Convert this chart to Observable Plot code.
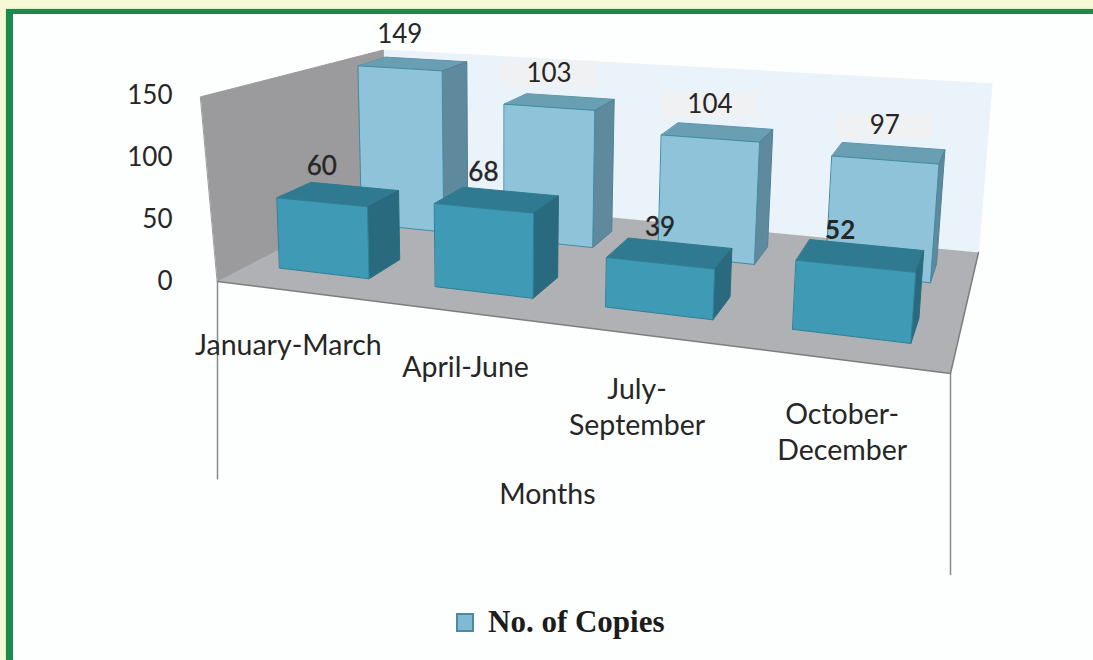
<!DOCTYPE html>
<html>
<head>
<meta charset="utf-8">
<script src="https://cdn.jsdelivr.net/npm/d3@7"></script>
<script src="https://cdn.jsdelivr.net/npm/@observablehq/plot@0.6"></script>
<style>
html,body{margin:0;padding:0;background:#fff;}
#page{position:relative;width:1093px;height:660px;overflow:hidden;background:#f7f8d6;}
#inner{position:absolute;left:6px;top:9px;right:0;bottom:0;background:#1c8a4c;box-shadow:0 0 2px #9fe6a8;}
#white{position:absolute;left:13px;top:14px;right:0;bottom:0;background:#fdfefe;}
#chart{position:absolute;left:0;top:0;}
#legend{position:absolute;left:456px;top:604px;height:36px;display:flex;align-items:center;font-family:"Liberation Serif",serif;font-weight:bold;font-size:31px;color:#1c1c1c;white-space:nowrap;}
#legend i{display:block;width:14px;height:15px;background:#7fb9d4;border:2px solid #4c8a9c;margin-right:14px;}
</style>
</head>
<body>
<div id="page"><div id="inner"></div><div id="white"></div><div id="chart"></div>
<div id="legend"><i></i><span>No. of Copies</span></div></div>
<script>
// Values
const categories = ["January-March", "April-June", "July-\nSeptember", "October-\nDecember"];
const frontValues = [60, 68, 39, 52];
const backValues = [149, 103, 104, 97];
// The reference's back columns are not all as tall as their printed labels (the "103" column stands near 121).
const backDrawnHeights = [147, 121, 104, 97];
const yTicks = [0, 50, 100, 150];
const axisTitle = "Months";

// Plot scales
const xDomain = [0, 4], xRange = [217, 950];
const yDomain = [0, 150], yRange = [281, 95];
const xInv = d3.scaleLinear(xRange, xDomain);
const yInv = d3.scaleLinear(yRange, yDomain);

// Perspective camera: s across the floor (0..1), t into the depth (0..1), h = value / 150
const CAM = {ax:565.7, bx:258, cx:-15, x0:217, ay:26.3, by:-39.2, cy:-187, y0:281, g:-0.1761, k:0.2402, m:-0.03};
function screen(s, t, v) {
  const h = v / 150;
  const w = 1 + CAM.g * s + CAM.k * t + CAM.m * h;
  return [(CAM.ax * s + CAM.bx * t + CAM.cx * h + CAM.x0) / w,
          (CAM.ay * s + CAM.by * t + CAM.cy * h + CAM.y0) / w];
}
function pt(s, t, v, id) {
  const [px, py] = screen(s, t, v);
  return {x: xInv(px), y: yInv(py), id};
}
function poly(id, corners) { return corners.map(([s, t, v]) => pt(s, t, v, id)); }

const S0 = 0.05, BAR_W = 0.146, STEP = 0.25;
const FRONT_T = [0.165, 0.355], BACK_T = [0.66, 0.845];
const CAT_NUDGE = [-0.01, 0.008, -0.006, 0];

function barFaces(values, [t0, t1], prefix) {
  const front = [], top = [], side = [];
  values.forEach((v, i) => {
    const s0 = S0 + STEP * i, s1 = s0 + BAR_W;
    front.push(...poly(prefix + "f" + i, [[s0,t0,0],[s1,t0,0],[s1,t0,v],[s0,t0,v]]));
    top.push(...poly(prefix + "t" + i, [[s0,t0,v],[s1,t0,v],[s1,t1,v],[s0,t1,v]]));
    side.push(...poly(prefix + "s" + i, [[s1,t0,0],[s1,t1,0],[s1,t1,v],[s1,t0,v]]));
  });
  return {front, top, side};
}
const face = (rows, fill, stroke) => Plot.line(rows, {x:"x", y:"y", z:"id", curve:"linear-closed", fill, stroke, strokeWidth:1});

const back = barFaces(backDrawnHeights, BACK_T, "b");
const front = barFaces(frontValues, FRONT_T, "f");

const labelAt = (v, i, t0) => pt(S0 + STEP * i + BAR_W / 2, t0, v);
const backLabels = backValues.map((lab, i) => ({...labelAt(backDrawnHeights[i], i, BACK_T[0]), lab}));
const frontLabels = frontValues.map((lab, i) => ({...labelAt(lab, i, FRONT_T[0]), lab}));
const catLabels = categories.map((lab, i) => ({...pt(0.125 + STEP * i + CAT_NUDGE[i], 0, 0), lab}));
const boxes = backLabels.slice(1);
const rightFloorY = pt(1, 0, 0).y;

const dark = "#262626", fs = 26, catFs = 28.5, font = "Lato, sans-serif";
const plot = Plot.plot({
  width: 1093, height: 600,
  marginLeft: 172, marginRight: 0, marginTop: 0, marginBottom: 0,
  x: {domain: xDomain, range: xRange, axis: null},
  y: {domain: yDomain, range: yRange, axis: null},
  style: {background: "transparent", fontFamily: font, overflow: "visible"},
  marks: [
    face(poly("backwall", [[0,1,0],[1,1,0],[1,1,146],[0.005,1,146]]), "#ebf3fa", "#ebf3fa"),
    face(poly("leftwall", [[0,0,0],[0,1,0],[0.005,1,146],[-0.013,0,150]]), "#9b9b9d", "#9b9b9d"),
    face(poly("floor", [[0,0,0],[1,0,0],[1,1,0],[0,1,0]]), "#afb1b4", "none"),
    Plot.line(poly("edge", [[0,0,0],[1,0,0],[1,1,0]]), {x:"x", y:"y", stroke:"#7d7d7d", strokeWidth:1.5}),
    Plot.ruleX([0], {y1:0, y2:-160, stroke:"#8a8a8a", strokeWidth:1.5}),
    Plot.ruleX([4], {y1:rightFloorY, y2:rightFloorY - 163, stroke:"#8a8a8a", strokeWidth:1.5}),
    face(back.top, "#6a9fb3", "#5f95a9"),
    face(back.side, "#5f8a9e", "#4f8094"),
    face(back.front, "#8fc3da", "#3f8ca3"),
    Plot.rect(boxes, {x1:d => d.x - 0.26, x2:d => d.x + 0.26, y1:d => d.y + 17, y2:d => d.y + 37, fill:"#f0f1f2"}),
    Plot.text(backLabels, {x:"x", y:"y", text:"lab", dy:-34, fill:dark, fontSize:fs}),
    face(front.top, "#2f7a90", "#2f7a90"),
    face(front.side, "#2a6a7f", "#2a6a7f"),
    face(front.front, "#3f9ab5", "#2f8096"),
    Plot.text(frontLabels.filter(d => d.lab !== 52), {x:"x", y:"y", text:"lab", dy:-36, fill:dark, stroke:dark, strokeWidth:0.4, fontSize:fs}),
    Plot.text(frontLabels.filter(d => d.lab === 52), {x:"x", y:"y", text:"lab", dy:-36, dx:-15, fill:dark, fontSize:fs, fontWeight:"bold"}),
    Plot.axisY(yTicks, {tickSize: 0, tickPadding: 0, fontSize: fs, label: null, fill: dark, tickFormat: d => d}),
    Plot.text(catLabels, {x:"x", y:"y", text:"lab", dy:39, lineAnchor:"top", lineHeight:1.26, fill:dark, fontSize:catFs}),
    Plot.text([axisTitle], {x:1.8, y:-172, fill:dark, fontSize:catFs})
  ]
});
document.getElementById("chart").appendChild(plot);
</script>
</body>
</html>
